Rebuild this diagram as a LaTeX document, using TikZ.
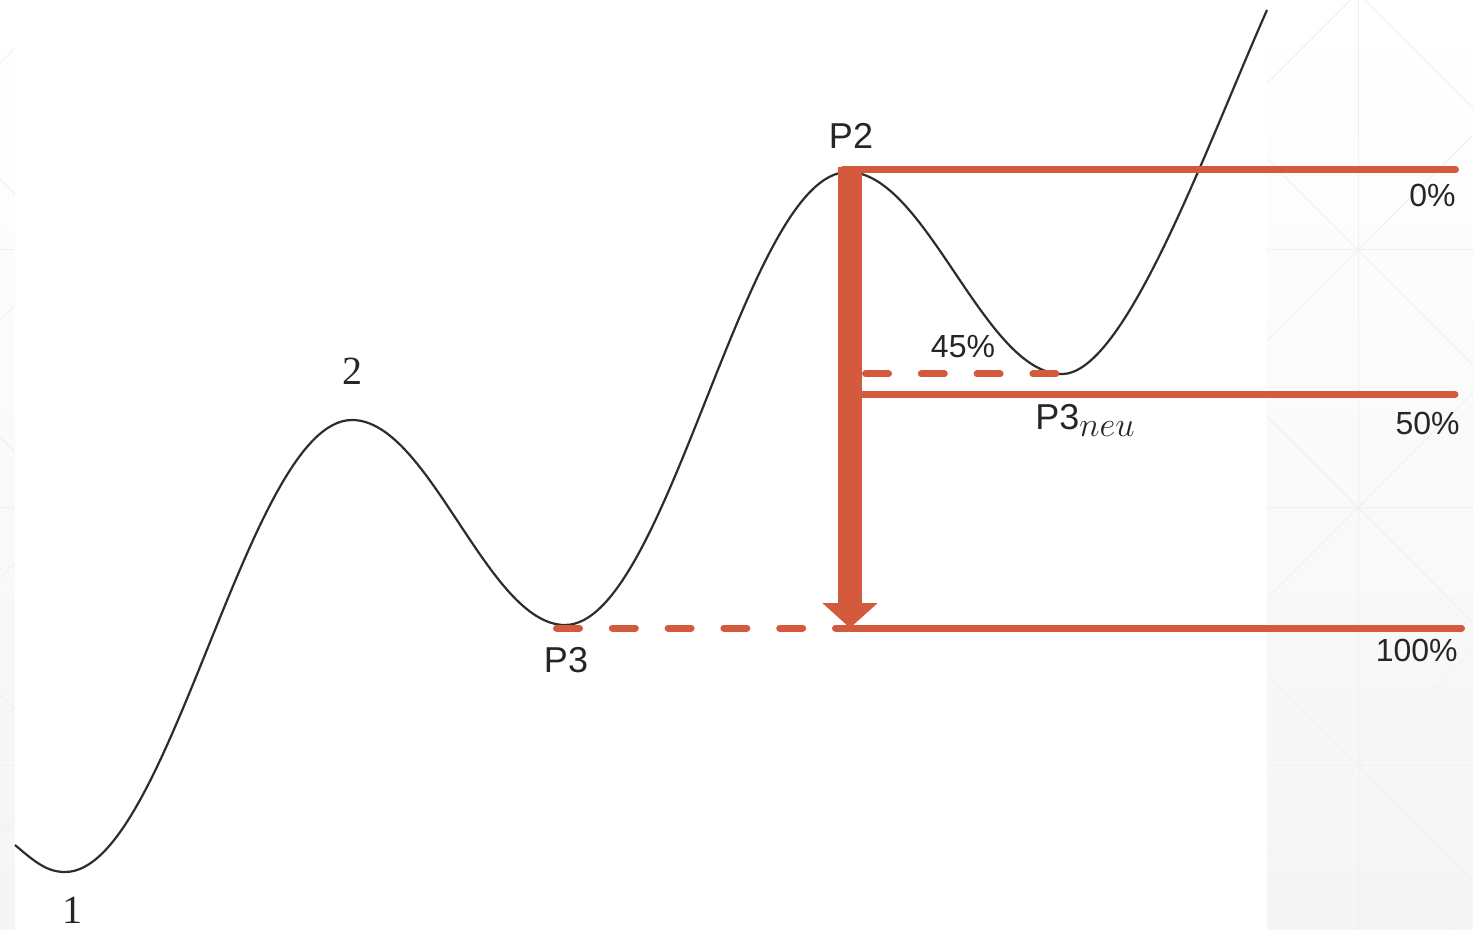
\documentclass[tikz,border=0pt]{standalone}
\usepackage{fontspec}
\setmainfont{Liberation Sans}
\newfontfamily\digitfont{Liberation Serif}
\usetikzlibrary{arrows.meta}
\definecolor{fibo}{RGB}{211,90,60}
\definecolor{curvecol}{RGB}{45,45,45}
\definecolor{gridcol}{RGB}{240,240,240}
\definecolor{textcol}{RGB}{38,38,38}
\tikzset{
  gridline/.style={draw=gridcol, line width=0.5pt},
  wave/.style={draw=curvecol, line width=1.1pt},
  fibline/.style={draw=fibo, line width=3.5pt, line cap=round},
  fibdash/.style={draw=fibo, line width=3.5pt, line cap=round, dash pattern=on 11.5pt off 16.4pt},
  bigarrow/.style={draw=fibo, line width=12pt, -{Triangle[length=12.5pt,width=27pt]}},
  lbl/.style={text=textcol, inner sep=0pt, font=\fontsize{18}{20}\selectfont},
  pct/.style={text=textcol, inner sep=0pt, font=\fontsize{16}{18}\selectfont},
  numlbl/.style={text=textcol, inner sep=0pt, font=\digitfont\fontsize{20}{22}\selectfont},
}
\begin{document}
\begin{tikzpicture}[x=0.5pt,y=-0.5pt]
\useasboundingbox (0,0) rectangle (1473,930);
% background
\shade[top color=white, middle color=white, bottom color=gray!8] (0,0) rectangle (1473,930);
\begin{scope}
  \clip (0,0) rectangle (1473,930);
  \foreach \k in {-1,...,7} {
    \draw[gridline] (-200,{-1108+257.5*\k-200}) -- (1700,{-1108+257.5*\k+1700});
  }
  \foreach \k in {-6,...,3} {
    \draw[gridline] (-200,{1608+257.5*\k+200}) -- (1700,{1608+257.5*\k-1700});
  }
  \foreach \y in {-7.5,250,507.5,765} {
    \draw[gridline] (0,\y) -- (1473,\y);
  }
  \draw[gridline] (1358,0) -- (1358,930);
\end{scope}
\fill[white] (15,0) rectangle (1267,930);

% price curve
\coordinate (c0) at (15,845);
\coordinate (m1) at (65,872);
\coordinate (M2) at (352,420);
\coordinate (m3) at (565,625);
\coordinate (M4) at (848,172);
\coordinate (m5) at (1062,374);
\coordinate (cE) at (1267,10);
\draw[wave] (c0) .. controls (35,862) and (47,872) .. (m1)
  .. controls (169.5,872) and (247.5,420) .. (M2)
  .. controls (429.5,420) and (487.5,625) .. (m3)
  .. controls (668,625) and (745,172) .. (M4)
  .. controls (926,172) and (984,374) .. (m5)
  .. controls (1125,374) and (1205,150) .. (cE);

% level coordinates
\coordinate (l0a) at (843,170);
\coordinate (l0b) at (1455.5,170);
\coordinate (l50a) at (862,394.5);
\coordinate (l50b) at (1455,394.5);
\coordinate (l100a) at (850,628);
\coordinate (l100b) at (1461.5,628);
\coordinate (d45a) at (865.5,374);
\coordinate (d45b) at (1056.5,374);
\coordinate (dP3a) at (556.5,628);
\coordinate (dP3b) at (848,628);
\coordinate (arrTop) at (850,167);
\coordinate (arrTip) at (850,628);

\draw[fibline] (l0a) -- (l0b);
\draw[fibline] (l50a) -- (l50b);
\draw[fibline] (l100a) -- (l100b);
\draw[fibdash] (d45a) -- (d45b);
\draw[fibdash] (dP3a) -- (dP3b);
\draw[bigarrow] (arrTop) -- (arrTip);

% labels
\node[lbl] (P2) at (851,136) {P2};
\node[numlbl] (n2) at (352,371) {2};
\node[numlbl] (n1) at (72,910) {1};
\node[lbl] (P3) at (566,660) {P3};
\node[lbl, anchor=base west] (P3n) at (1035,430) {P3\raisebox{-3.5pt}{\fontsize{16}{18}\selectfont$neu$}};
\node[pct] (p45) at (963,347) {45\%};
\node[pct, anchor=east] (p0) at (1456,195) {0\%};
\node[pct, anchor=east] (p50) at (1460,423) {50\%};
\node[pct, anchor=east] (p100) at (1458,650) {100\%};
\end{tikzpicture}
\end{document}
